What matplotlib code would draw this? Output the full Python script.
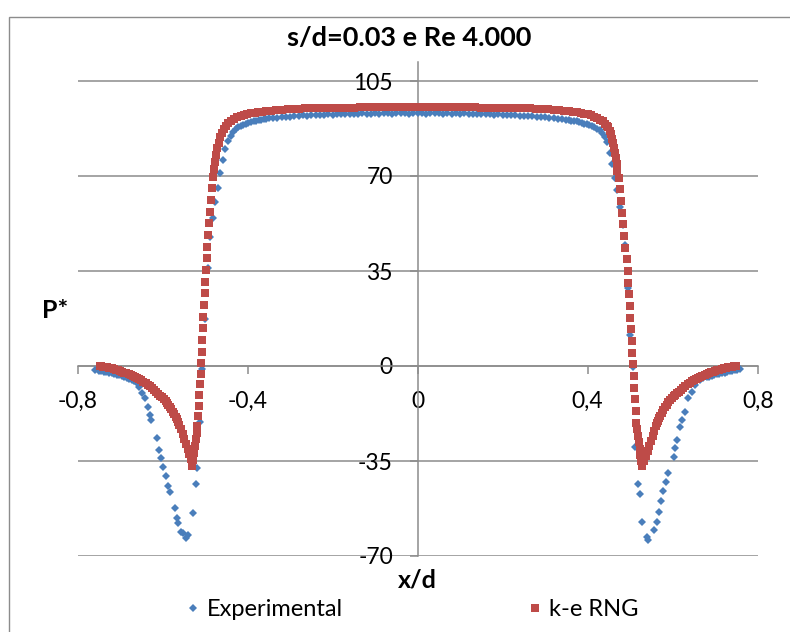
import matplotlib
matplotlib.use("Agg")
import matplotlib.pyplot as plt
import numpy as np
from matplotlib.patches import Rectangle

plt.rcParams["font.family"] = ["Lato", "DejaVu Sans"]

TITLE = "s/d=0.03 e Re 4.000"
X_LABEL = "x/d"
Y_LABEL = "P*"
X_TICKS = [-0.8, -0.4, 0.0, 0.4, 0.8]
X_TICK_LABELS = ["-0,8", "-0,4", "0", "0,4", "0,8"]
Y_TICKS = [-70, -35, 0, 35, 70, 105]
Y_TICK_LABELS = ["-70", "-35", "0", "35", "70", "105"]
SERIES_NAMES = ["Experimental", "k-e RNG"]

# Experimental (blue diamonds), (x/d, P*)
EXP_LEFT_TAIL = [
    (-0.758, -1.5), (-0.750, -1.7), (-0.744, -1.9), (-0.738, -2.1), (-0.732, -2.3),
    (-0.726, -2.5), (-0.720, -2.7), (-0.714, -2.9), (-0.708, -3.2), (-0.702, -3.4),
    (-0.696, -3.7), (-0.690, -4.0), (-0.684, -4.3), (-0.678, -4.7), (-0.672, -5.0),
    (-0.666, -5.5), (-0.660, -6.1), (-0.655, -7.6),
]
EXP_LEFT_DIP = [
    (-0.649, -10.1), (-0.641, -11.8), (-0.634, -15.0), (-0.630, -18.1), (-0.626, -19.9),
    (-0.614, -26.6), (-0.608, -31.0), (-0.604, -34.0), (-0.598, -37.1), (-0.592, -40.5),
    (-0.587, -44.1), (-0.583, -46.3), (-0.571, -52.2), (-0.567, -56.1), (-0.563, -58.0),
    (-0.557, -61.1), (-0.551, -61.6), (-0.545, -63.5), (-0.540, -62.3), (-0.528, -54.1),
    (-0.521, -43.5), (-0.520, -37.7), (-0.512, -20.5), (-0.506, -1.2),
]
EXP_LEFT_WALL = [
    (-0.500, 17.5), (-0.494, 36.0), (-0.488, 47.5), (-0.482, 54.5), (-0.476, 60.5),
    (-0.470, 65.5), (-0.464, 71.0), (-0.458, 76.0), (-0.452, 79.8), (-0.446, 82.9),
    (-0.440, 84.8), (-0.434, 86.1), (-0.428, 87.2), (-0.422, 87.9), (-0.416, 88.5),
    (-0.410, 88.9), (-0.404, 89.3), (-0.398, 89.6), (-0.392, 89.9), (-0.386, 90.2),
    (-0.380, 90.3), (-0.374, 90.6), (-0.368, 90.7), (-0.362, 90.9), (-0.356, 91.0),
    (-0.350, 91.2),
]
EXP_PLATEAU = [
    (-0.340, 91.4), (-0.330, 91.5), (-0.320, 91.7), (-0.310, 91.8), (-0.300, 91.9),
    (-0.290, 92.1), (-0.280, 92.0), (-0.270, 92.3), (-0.260, 92.2), (-0.250, 92.4),
    (-0.240, 92.5), (-0.230, 92.4), (-0.220, 92.6), (-0.210, 92.7), (-0.200, 92.6),
    (-0.190, 92.8), (-0.180, 92.7), (-0.170, 92.9), (-0.160, 92.8), (-0.150, 93.0),
    (-0.140, 92.9), (-0.130, 93.1), (-0.120, 92.9), (-0.110, 93.0), (-0.100, 93.2),
    (-0.090, 93.0), (-0.080, 93.1), (-0.070, 93.3), (-0.060, 93.0), (-0.050, 93.2),
    (-0.040, 93.1), (-0.030, 93.3), (-0.020, 93.0), (-0.010, 93.2), (0.000, 93.1),
    (0.010, 93.3), (0.020, 93.0), (0.030, 93.2), (0.040, 93.1), (0.050, 93.3),
    (0.060, 93.0), (0.070, 93.2), (0.080, 93.0), (0.090, 93.1), (0.100, 92.9),
    (0.110, 93.1), (0.120, 92.9), (0.130, 93.0), (0.140, 92.8), (0.150, 92.9),
    (0.160, 92.7), (0.170, 92.8), (0.180, 92.6), (0.190, 92.7), (0.200, 92.5),
    (0.210, 92.6), (0.220, 92.4), (0.230, 92.4), (0.240, 92.2), (0.250, 92.2),
    (0.260, 92.0), (0.270, 92.0), (0.280, 91.8), (0.290, 91.7), (0.300, 91.6),
    (0.310, 91.4), (0.320, 91.3), (0.330, 91.1), (0.340, 90.9),
]
EXP_RIGHT_WALL = [
    (0.350, 90.7), (0.356, 90.6), (0.362, 90.4), (0.368, 90.3), (0.374, 90.1),
    (0.380, 89.9), (0.386, 89.6), (0.392, 89.3), (0.398, 89.0), (0.404, 88.7),
    (0.410, 88.4), (0.416, 88.0), (0.422, 87.5), (0.428, 86.8), (0.434, 85.9),
    (0.440, 84.5), (0.446, 82.5), (0.452, 78.5), (0.458, 74.3), (0.464, 69.3),
    (0.470, 65.0), (0.476, 58.5), (0.482, 52.0), (0.488, 44.6), (0.494, 28.6),
    (0.500, 11.4), (0.506, -0.2),
]
EXP_RIGHT_DIP = [
    (0.511, -29.7), (0.519, -43.5), (0.522, -47.2), (0.527, -57.4), (0.539, -62.9),
    (0.543, -64.1), (0.555, -60.4), (0.563, -57.4), (0.568, -53.7), (0.573, -49.7),
    (0.578, -45.9), (0.584, -42.6), (0.590, -39.3), (0.602, -33.4), (0.606, -30.3),
    (0.610, -27.3), (0.618, -22.6), (0.622, -19.9), (0.629, -16.8), (0.637, -11.9),
    (0.645, -9.5), (0.653, -7.0), (0.665, -5.2), (0.672, -4.6), (0.680, -4.2),
    (0.686, -3.9), (0.692, -3.6), (0.698, -3.3), (0.704, -3.1), (0.710, -2.9),
    (0.716, -2.6), (0.722, -2.4), (0.728, -2.2), (0.734, -2.0), (0.740, -1.8),
    (0.746, -1.6), (0.752, -1.4), (0.758, -1.2),
]

# k-e RNG (red squares)
RNG_LEFT_DIP = [
    (-0.748, 0.0), (-0.744, -0.1), (-0.740, -0.2), (-0.735, -0.35), (-0.730, -0.5),
    (-0.725, -0.7), (-0.720, -0.9), (-0.715, -1.1), (-0.710, -1.3), (-0.705, -1.6),
    (-0.700, -1.9), (-0.695, -2.15), (-0.690, -2.4), (-0.685, -2.65), (-0.680, -2.9),
    (-0.675, -3.25), (-0.670, -3.6), (-0.665, -4.0), (-0.660, -4.4), (-0.655, -4.85),
    (-0.650, -5.3), (-0.645, -5.8), (-0.640, -6.3), (-0.635, -6.9), (-0.630, -7.5),
    (-0.625, -8.1), (-0.620, -8.8), (-0.615, -9.5), (-0.610, -10.2), (-0.6055, -10.9),
    (-0.601, -11.6), (-0.597, -12.3), (-0.593, -13.0), (-0.5895, -13.6), (-0.586, -14.3),
    (-0.5825, -15.1), (-0.579, -15.9), (-0.5755, -16.8), (-0.572, -17.8), (-0.569, -18.7),
    (-0.566, -19.7), (-0.5635, -20.6), (-0.561, -21.6), (-0.557, -23.3), (-0.553, -25.0),
    (-0.549, -26.8), (-0.545, -28.6), (-0.541, -30.5), (-0.537, -32.4), (-0.5335, -34.4),
    (-0.5305, -36.8), (-0.528, -34.5), (-0.526, -32.0), (-0.524, -29.5), (-0.522, -27.0),
    (-0.520, -24.5), (-0.518, -22.0),
]
RNG_LEFT_WALL = [
    (-0.5165, -18.5), (-0.5150, -14.6), (-0.5135, -10.7), (-0.5120, -6.8), (-0.5105, -2.9),
    (-0.5090, 1.0), (-0.5077, 5.3), (-0.5064, 9.6), (-0.5051, 13.9), (-0.5038, 18.2),
    (-0.5024, 22.5), (-0.5010, 26.8), (-0.4995, 31.1), (-0.4979, 35.4), (-0.4962, 39.7),
    (-0.4944, 44.0), (-0.4925, 48.3), (-0.4905, 52.6), (-0.4884, 56.9), (-0.4862, 61.2),
    (-0.4838, 65.5), (-0.4812, 69.8),
]
RNG_LEFT_SHOULDER = [
    (-0.4790, 72.6), (-0.4765, 75.3), (-0.4738, 77.8), (-0.4708, 80.2), (-0.4675, 82.3),
    (-0.4638, 84.3), (-0.4598, 86.0), (-0.4553, 87.4), (-0.4503, 88.6), (-0.4450, 89.6),
    (-0.4390, 90.4), (-0.4320, 91.1), (-0.4245, 91.6), (-0.4165, 92.1), (-0.4085, 92.5),
    (-0.4005, 92.8), (-0.3920, 93.1), (-0.3835, 93.3), (-0.3750, 93.5), (-0.3660, 93.7),
    (-0.3560, 93.9), (-0.3450, 94.1), (-0.3330, 94.3), (-0.3200, 94.45), (-0.3060, 94.6),
    (-0.2920, 94.7), (-0.2780, 94.8), (-0.2640, 94.9), (-0.2500, 95.0), (-0.2350, 95.05),
]
RNG_PLATEAU = [
    (-0.225, 95.1), (-0.210, 95.1), (-0.195, 95.15), (-0.180, 95.2), (-0.165, 95.2),
    (-0.150, 95.2), (-0.135, 95.25), (-0.120, 95.3), (-0.105, 95.3), (-0.090, 95.35),
    (-0.075, 95.4), (-0.060, 95.4), (-0.045, 95.4), (-0.030, 95.45), (-0.015, 95.45),
    (0.000, 95.45), (0.015, 95.45), (0.030, 95.45), (0.045, 95.4), (0.060, 95.4),
    (0.075, 95.4), (0.090, 95.35), (0.105, 95.3), (0.120, 95.3), (0.135, 95.25),
    (0.150, 95.2), (0.165, 95.2), (0.180, 95.2), (0.195, 95.15), (0.210, 95.1),
    (0.225, 95.1),
]
RNG_RIGHT_SHOULDER = [
    (0.235, 95.05), (0.250, 95.0), (0.264, 94.9), (0.278, 94.8), (0.292, 94.7),
    (0.306, 94.6), (0.320, 94.45), (0.333, 94.3), (0.345, 94.1), (0.356, 93.9),
    (0.366, 93.7), (0.375, 93.5), (0.3835, 93.25), (0.392, 93.0), (0.400, 92.7),
    (0.408, 92.35), (0.4155, 91.9), (0.4225, 91.4), (0.429, 90.8), (0.435, 90.1),
    (0.4405, 89.3), (0.445, 88.6), (0.449, 88.0), (0.4525, 86.7), (0.4555, 85.3),
    (0.4583, 83.7), (0.4608, 82.0), (0.4630, 80.3), (0.4650, 78.5), (0.4668, 76.5),
    (0.4685, 74.3), (0.4700, 72.0),
]
RNG_RIGHT_WALL = [
    (0.4734, 69.4), (0.4760, 65.1), (0.4785, 60.8), (0.4811, 56.5), (0.4837, 52.2),
    (0.4863, 47.9), (0.4888, 43.6), (0.4914, 39.3), (0.4940, 35.0), (0.4955, 30.7),
    (0.4971, 26.4), (0.4986, 22.1), (0.5001, 17.8), (0.5017, 13.5), (0.5032, 9.2),
    (0.5048, 4.9), (0.5063, 0.6), (0.5080, -3.7), (0.5097, -8.0), (0.5114, -12.3),
    (0.5131, -16.6), (0.5148, -20.9), (0.5165, -23.3), (0.5183, -25.7), (0.5202, -28.1),
    (0.5222, -30.5), (0.5243, -32.9), (0.5263, -35.0),
]
RNG_RIGHT_DIP = [
    (0.529, -36.8), (0.533, -35.0), (0.537, -33.2), (0.541, -31.3), (0.545, -29.5),
    (0.549, -27.6), (0.553, -25.7), (0.557, -23.9), (0.561, -22.0), (0.5635, -21.0),
    (0.566, -20.1), (0.5685, -19.2), (0.571, -18.4), (0.5745, -17.3), (0.578, -16.2),
    (0.582, -15.2), (0.586, -14.2), (0.590, -13.3), (0.594, -12.5), (0.598, -11.8),
    (0.602, -11.2), (0.606, -10.6), (0.610, -10.1), (0.615, -9.4), (0.620, -8.7),
    (0.625, -8.0), (0.630, -7.4), (0.635, -6.8), (0.640, -6.2), (0.645, -5.7),
    (0.650, -5.2), (0.655, -4.75), (0.660, -4.3), (0.665, -3.9), (0.670, -3.5),
    (0.675, -3.15), (0.680, -2.8), (0.685, -2.55), (0.690, -2.3), (0.695, -2.05),
    (0.700, -1.8), (0.705, -1.55), (0.710, -1.3), (0.715, -1.1), (0.720, -0.9),
    (0.725, -0.7), (0.730, -0.5), (0.735, -0.35), (0.740, -0.2), (0.744, -0.1),
    (0.748, 0.0),
]

EXP_COLOR = "#4A7EBB"
RNG_COLOR = "#BE4B48"
AXIS_GRAY = "#8C8C8C"


def stack(*segments):
    points = np.array([p for seg in segments for p in seg])
    return points[:, 0], points[:, 1]


def main():
    exp_x, exp_y = stack(EXP_LEFT_TAIL, EXP_LEFT_DIP, EXP_LEFT_WALL, EXP_PLATEAU,
                         EXP_RIGHT_WALL, EXP_RIGHT_DIP)
    rng_x, rng_y = stack(RNG_LEFT_DIP, RNG_LEFT_WALL, RNG_LEFT_SHOULDER, RNG_PLATEAU,
                         RNG_RIGHT_SHOULDER, RNG_RIGHT_WALL, RNG_RIGHT_DIP)

    W, H = 790, 632
    fig = plt.figure(figsize=(W / 100, H / 100), dpi=100)
    ax = fig.add_axes([77.5 / W, 1 - 556 / H, 680.2 / W, 494 / H])

    ax.plot(exp_x, exp_y, linestyle="none", marker="D", ms=3.8, mew=0,
            color=EXP_COLOR, label=SERIES_NAMES[0], zorder=3)
    ax.plot(rng_x, rng_y, linestyle="none", marker="s", ms=6.4, mew=0,
            color=RNG_COLOR, label=SERIES_NAMES[1], zorder=4)

    ax.set_xlim(-0.8, 0.8)
    ax.set_ylim(-70, 112)
    for side in ("top", "right"):
        ax.spines[side].set_visible(False)
    ax.spines["left"].set_position(("data", 0))
    ax.spines["bottom"].set_position(("data", 0))
    for side in ("left", "bottom"):
        ax.spines[side].set_color(AXIS_GRAY)
        ax.spines[side].set_linewidth(1.1)
    ax.set_xticks(X_TICKS, X_TICK_LABELS)
    ax.set_yticks(Y_TICKS, Y_TICK_LABELS)
    ax.tick_params(direction="out", length=5.8, width=1.1, color=AXIS_GRAY,
                   pad=12, labelsize=16.5, labelcolor="black")
    ax.yaxis.grid(True, color=AXIS_GRAY, linewidth=1.1)
    ax.set_axisbelow(True)
    ax.patch.set_visible(False)

    fig.text(409.5 / W, 1 - 38 / H, TITLE, ha="center", va="center",
             fontsize=19.5, fontweight="bold")
    fig.text(417.6 / W, 1 - 580 / H, X_LABEL, ha="center", va="center",
             fontsize=18, fontweight="bold")
    fig.text(55 / W, 1 - 311 / H, Y_LABEL, ha="center", va="center",
             fontsize=18, fontweight="bold")

    fig.legend(loc="center left", bbox_to_anchor=(187 / W, 1 - 610 / H), ncol=2,
               frameon=False, fontsize=17, handlelength=0.55, handletextpad=0.3,
               columnspacing=7.85, borderpad=0, borderaxespad=0)

    fig.patches.append(Rectangle((9 / W, -0.05), 1.0, 1.05 - 17 / H,
                                 transform=fig.transFigure, fill=False,
                                 edgecolor=AXIS_GRAY, linewidth=1.0))

    fig.savefig("out.png", dpi=100, facecolor="white")
    plt.close(fig)


if __name__ == "__main__":
    main()
